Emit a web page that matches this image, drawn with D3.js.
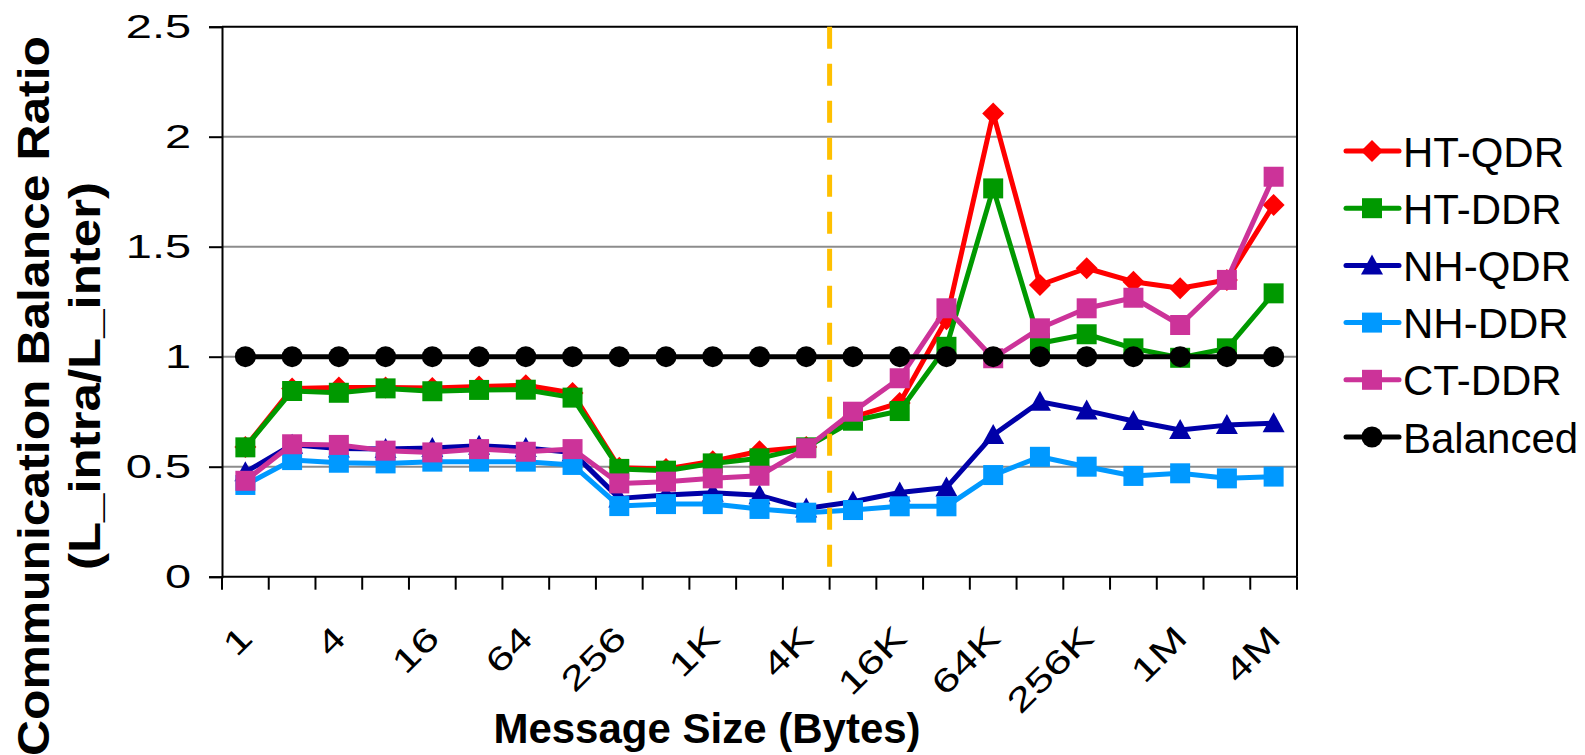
<!DOCTYPE html>
<html>
<head>
<meta charset="utf-8">
<script src="https://cdn.jsdelivr.net/npm/d3@7"></script>
<style>
  html, body { margin: 0; padding: 0; background: #fff; }
  svg { display: block; font-family: "Liberation Sans", Arial, sans-serif; }
</style>
</head>
<body>
<svg id="chart" width="1585" height="755"></svg>
<script>
// Message sizes (bytes), powers of two from 1 to 4M
const categories = ["1","2","4","8","16","32","64","128","256","512","1K","2K","4K","8K","16K","32K","64K","128K","256K","512K","1M","2M","4M"];
const tickLabels = ["1","4","16","64","256","1K","4K","16K","64K","256K","1M","4M"];
const yTicks = [0, 0.5, 1, 1.5, 2, 2.5];

const htQdr = [0.59,0.855,0.86,0.86,0.858,0.865,0.87,0.835,0.495,0.49,0.525,0.57,0.59,0.725,0.79,1.17,2.106,1.326,1.402,1.341,1.311,1.349,1.69];
const htDdr = [0.588,0.844,0.836,0.856,0.843,0.849,0.85,0.814,0.49,0.482,0.515,0.538,0.588,0.709,0.753,1.045,1.765,1.061,1.102,1.038,0.995,1.038,1.288];
const nhQdr = [0.475,0.6,0.583,0.58,0.585,0.595,0.585,0.565,0.356,0.371,0.382,0.37,0.31,0.341,0.383,0.405,0.644,0.795,0.755,0.708,0.667,0.689,0.698];
const nhDdr = [0.417,0.53,0.518,0.515,0.523,0.523,0.523,0.508,0.321,0.33,0.33,0.308,0.291,0.303,0.32,0.32,0.462,0.545,0.5,0.458,0.47,0.447,0.455];
const ctDdr = [0.436,0.602,0.599,0.573,0.565,0.58,0.568,0.58,0.424,0.432,0.447,0.459,0.584,0.75,0.902,1.22,0.993,1.129,1.22,1.268,1.144,1.349,1.818];
const balanced = [1,1,1,1,1,1,1,1,1,1,1,1,1,1,1,1,1,1,1,1,1,1,1];

const seriesNames = ["HT-QDR","HT-DDR","NH-QDR","NH-DDR","CT-DDR","Balanced"];
const seriesValues = [htQdr, htDdr, nhQdr, nhDdr, ctDdr, balanced];
const seriesColors = ["#ff0000","#009900","#0000a8","#0099ff","#cc3399","#000000"];
const seriesMarkers = ["diamond","square","triangle","square","square","circle"];

// boundary between the small-message and large-message regimes
const splitAfter = "4K";

const svg = d3.select("#chart");
const plotLeft = 222, plotRight = 1297, plotTop = 26.7, plotBottom = 576.7;
const tickStretch = 1.38;   // tick labels are drawn horizontally widened

const x = d3.scaleBand().domain(categories).range([plotLeft, plotRight]).padding(0);
const y = d3.scaleLinear().domain([0, 2.5]).range([plotBottom, plotTop]);
const cx = c => x(c) + x.bandwidth() / 2;

// gridlines
svg.append("g").selectAll("line").data(yTicks.filter(v => v > 0 && v < 2.5)).join("line")
  .attr("x1", plotLeft).attr("x2", plotRight)
  .attr("y1", d => y(d)).attr("y2", d => y(d))
  .attr("stroke", "#8c8c8c").attr("stroke-width", 2);

// plot frame (top and right)
svg.append("path")
  .attr("d", `M${plotLeft},${plotTop}H${plotRight}V${plotBottom}`)
  .attr("fill", "none").attr("stroke", "#000").attr("stroke-width", 2);

// y axis
const yAxis = svg.append("g").attr("transform", `translate(${plotLeft},0)`)
  .call(d3.axisLeft(y).tickValues(yTicks).tickSize(13).tickPadding(18).tickFormat(d3.format("")));
yAxis.select(".domain").attr("stroke", "#000").attr("stroke-width", 2);
yAxis.selectAll(".tick line").attr("stroke", "#000").attr("stroke-width", 2);
yAxis.selectAll(".tick text")
  .attr("font-size", 34).attr("fill", "#000")
  .attr("font-family", "Liberation Sans, Arial, sans-serif")
  .attr("x", -31 / tickStretch)
  .attr("transform", `scale(${tickStretch},1)`);

// x axis: ticks on category boundaries
const xAxisG = svg.append("g");
xAxisG.append("line").attr("x1", plotLeft).attr("x2", plotRight).attr("y1", plotBottom).attr("y2", plotBottom)
  .attr("stroke", "#000").attr("stroke-width", 2);
const boundaries = categories.map(c => x(c)).concat([plotRight]);
xAxisG.selectAll("line.tk").data(boundaries).join("line").attr("class", "tk")
  .attr("x1", d => d).attr("x2", d => d).attr("y1", plotBottom).attr("y2", plotBottom + 13)
  .attr("stroke", "#000").attr("stroke-width", 2);
xAxisG.selectAll("text").data(tickLabels).join("text")
  .attr("transform", d => `translate(${cx(d) + 9},640) rotate(-45) scale(${tickStretch},1)`)
  .attr("text-anchor", "end").attr("font-size", 33).attr("fill", "#000")
  .text(d => d);

// series lines and markers
function markerPath(type) {
  if (type === "diamond") return "M0,-11L11,0L0,11L-11,0Z";
  if (type === "square") return "M-10,-10H10V10H-10Z";
  if (type === "triangle") return "M0,-11L11,9H-11Z";
  return d3.symbol(d3.symbolCircle, Math.PI * 10.5 * 10.5)();
}

const line = d3.line().x((d, i) => cx(categories[i])).y(d => y(d));
seriesValues.forEach((vals, si) => {
  const g = svg.append("g");
  g.append("path").attr("d", line(vals)).attr("fill", "none")
    .attr("stroke", seriesColors[si]).attr("stroke-width", 5).attr("stroke-linejoin", "round");
  g.selectAll("path.m").data(vals).join("path").attr("class", "m")
    .attr("d", markerPath(seriesMarkers[si]))
    .attr("transform", (d, i) => `translate(${cx(categories[i])},${y(d)})`)
    .attr("fill", seriesColors[si]);
});

// dashed divider
const splitX = x(splitAfter) + x.bandwidth();
svg.append("line").attr("x1", splitX).attr("x2", splitX).attr("y1", plotTop).attr("y2", plotBottom)
  .attr("stroke", "#ffc000").attr("stroke-width", 5).attr("stroke-dasharray", "22,15");

// legend
const legend = svg.append("g");
seriesNames.forEach((name, i) => {
  const ly = 151 + i * 57.2;
  const g = legend.append("g").attr("transform", `translate(0,${ly})`);
  g.append("line").attr("x1", 1346).attr("x2", 1399).attr("y1", 0).attr("y2", 0)
    .attr("stroke", seriesColors[i]).attr("stroke-width", 5).attr("stroke-linecap", "round");
  g.append("path").attr("d", markerPath(seriesMarkers[i]))
    .attr("transform", "translate(1372,0)").attr("fill", seriesColors[i]);
  g.append("text").attr("x", 1403).attr("y", 15.5).attr("font-size", 42).attr("fill", "#000").text(name);
});

// axis titles
svg.append("text").attr("x", 707).attr("y", 743).attr("text-anchor", "middle")
  .attr("font-size", 42).attr("font-weight", "bold").text("Message Size (Bytes)");

svg.append("text").attr("transform", "translate(49,396) rotate(-90)").attr("text-anchor", "middle")
  .attr("font-size", 44).attr("font-weight", "bold")
  .attr("textLength", 720).attr("lengthAdjust", "spacingAndGlyphs")
  .text("Communication Balance Ratio");
svg.append("text").attr("transform", "translate(100,376) rotate(-90)").attr("text-anchor", "middle")
  .attr("font-size", 44).attr("font-weight", "bold")
  .attr("textLength", 388).attr("lengthAdjust", "spacingAndGlyphs")
  .text("(L_intra/L_inter)");
</script>
</body>
</html>
